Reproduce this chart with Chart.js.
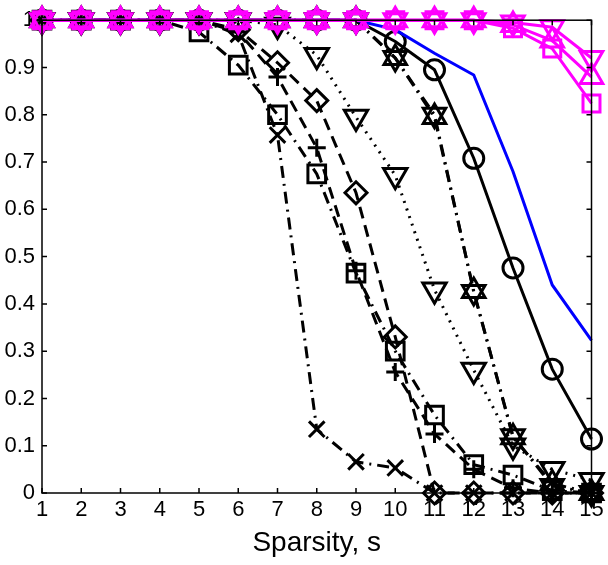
<!DOCTYPE html>
<html>
<head>
<meta charset="utf-8">
<script src="https://cdn.jsdelivr.net/npm/chart.js@4.4.1/dist/chart.umd.min.js"></script>
<style>
  html, body { margin: 0; padding: 0; background: #fff; }
  #wrap { width: 608px; height: 565px; }
</style>
</head>
<body>
<div id="wrap"><canvas id="c" width="608" height="565"></canvas></div>
<script>
// ---- data ----
const sparsity = [1, 2, 3, 4, 5, 6, 7, 8, 9, 10, 11, 12, 13, 14, 15];
const xTicks = [1, 2, 3, 4, 5, 6, 7, 8, 9, 10, 11, 12, 13, 14, 15];
const yTicks = [0, 0.1, 0.2, 0.3, 0.4, 0.5, 0.6, 0.7, 0.8, 0.9, 1];

const magentaDown   = [1, 1, 1, 1, 1, 1, 1, 1, 1, 1, 1, 1, 0.995, 0.985, 0.92];
const magentaUp     = [1, 1, 1, 1, 1, 1, 1, 1, 1, 1, 1, 1, 0.99, 0.957, 0.88];
const magentaSquare = [1, 1, 1, 1, 1, 1, 1, 1, 1, 1, 1, 1, 0.983, 0.94, 0.824];
const blueLine      = [1, 1, 1, 1, 1, 1, 1, 1, 1, 0.98, 0.93, 0.884, 0.68, 0.44, 0.323];
const circleSolid   = [1, 1, 1, 1, 1, 1, 1, 1, 1, 0.955, 0.895, 0.708, 0.476, 0.262, 0.114];
const starUp        = [1, 1, 1, 1, 1, 1, 1, 1, 1, 0.92, 0.795, 0.427, 0.118, 0.02, 0];
const starDown      = [1, 1, 1, 1, 1, 1, 1, 1, 1, 0.92, 0.80, 0.425, 0.12, 0.015, 0];
const triDotted     = [1, 1, 1, 1, 1, 1, 0.99, 0.926, 0.795, 0.672, 0.43, 0.26, 0.10, 0.05, 0.027];
const diamondDashed = [1, 1, 1, 1, 1, 0.98, 0.91, 0.83, 0.635, 0.33, 0, 0, 0, 0, 0];
const squareDashDot = [1, 1, 1, 1, 0.975, 0.905, 0.80, 0.675, 0.465, 0.30, 0.165, 0.06, 0.038, 0.005, 0];
const plusDashed    = [1, 1, 1, 1, 1, 0.975, 0.88, 0.73, 0.47, 0.256, 0.125, 0.05, 0.01, 0, 0];
const xDashDot      = [1, 1, 1, 1, 1, 0.97, 0.757, 0.135, 0.066, 0.053, 0, 0, 0, 0, 0];

Chart.defaults.font.family = "'Liberation Sans', Arial, Helvetica, sans-serif";
Chart.defaults.color = '#000';

const pts = arr => arr.map((v, i) => ({ x: sparsity[i], y: v }));

function ds(data, color, style, radius, dash, width, rotation) {
  return {
    data: pts(data),
    borderColor: color,
    backgroundColor: 'transparent',
    pointBorderColor: color,
    pointBackgroundColor: 'transparent',
    pointStyle: style,
    pointRadius: radius,
    pointHoverRadius: radius,
    pointBorderWidth: 3,
    pointRotation: rotation || 0,
    borderWidth: width,
    borderDash: dash,
    tension: 0,
    fill: false,
    clip: false
  };
}

const MAG = '#ff00ff';
const DD = [12, 6, 2, 6];
const DASH = [12, 7];
const DOT = [2, 6];
const datasets = [
  ds(magentaDown, MAG, 'triangle', 13, [], 3, 180),
  ds(magentaUp, MAG, 'triangle', 13, [], 3, 0),
  ds(magentaSquare, MAG, 'rect', 12, [], 3, 0),
  ds(blueLine, '#0000ff', false, 0, [], 3, 0),
  ds(circleSolid, '#000', 'circle', 10, [], 3, 0),
  ds(starUp, '#000', 'triangle', 13, DD, 3, 0),
  ds(starDown, '#000', 'triangle', 13, DD, 3, 180),
  ds(triDotted, '#000', 'triangle', 13.5, DOT, 3, 180),
  ds(diamondDashed, '#000', 'rectRot', 11, DASH, 3, 0),
  ds(squareDashDot, '#000', 'rect', 12.5, DD, 3, 0),
  ds(plusDashed, '#000', 'cross', 9, DASH, 3, 0),
  ds(xDashDot, '#000', 'crossRot', 11, DD, 3, 0)
];

const frame = {
  id: 'frame',
  afterDatasetsDraw(chart) {
    const { ctx, chartArea: a, scales } = chart;
    ctx.save();
    ctx.strokeStyle = '#000';
    ctx.lineWidth = 1.5;
    ctx.strokeRect(a.left, a.top, a.right - a.left, a.bottom - a.top);
    const len = 5;
    ctx.beginPath();
    xTicks.forEach(v => {
      const px = scales.x.getPixelForValue(v);
      ctx.moveTo(px, a.bottom); ctx.lineTo(px, a.bottom - len);
      ctx.moveTo(px, a.top); ctx.lineTo(px, a.top + len);
    });
    yTicks.forEach(v => {
      const py = scales.y.getPixelForValue(v);
      ctx.moveTo(a.left, py); ctx.lineTo(a.left + len, py);
      ctx.moveTo(a.right, py); ctx.lineTo(a.right - len, py);
    });
    ctx.stroke();
    ctx.restore();
  }
};

new Chart(document.getElementById('c'), {
  type: 'line',
  data: { datasets },
  options: {
    responsive: false,
    animation: false,
    events: [],
    layout: { padding: { top: 20, right: 16, left: 0, bottom: 0 } },
    plugins: { legend: { display: false }, tooltip: { enabled: false } },
    scales: {
      x: {
        type: 'linear',
        min: 1, max: 15,
        afterBuildTicks: s => { s.ticks = xTicks.map(v => ({ value: v })); },
        afterFit: s => { s.height = 72; },
        grid: { display: false, drawTicks: false },
        border: { display: false },
        ticks: { font: { size: 22 }, padding: 4, maxRotation: 0, autoSkip: false },
        title: { display: true, text: 'Sparsity, s', font: { size: 28 }, padding: { top: 0, bottom: 5 } }
      },
      y: {
        type: 'linear',
        min: 0, max: 1,
        afterBuildTicks: s => { s.ticks = yTicks.map(v => ({ value: v })); },
        afterFit: s => { s.width = 42; },
        grid: { display: false, drawTicks: false },
        border: { display: false },
        ticks: {
          font: { size: 22 }, padding: 7, autoSkip: false,
          callback: v => String(Number(v.toFixed(1)))
        }
      }
    }
  },
  plugins: [frame]
});
</script>
</body>
</html>
